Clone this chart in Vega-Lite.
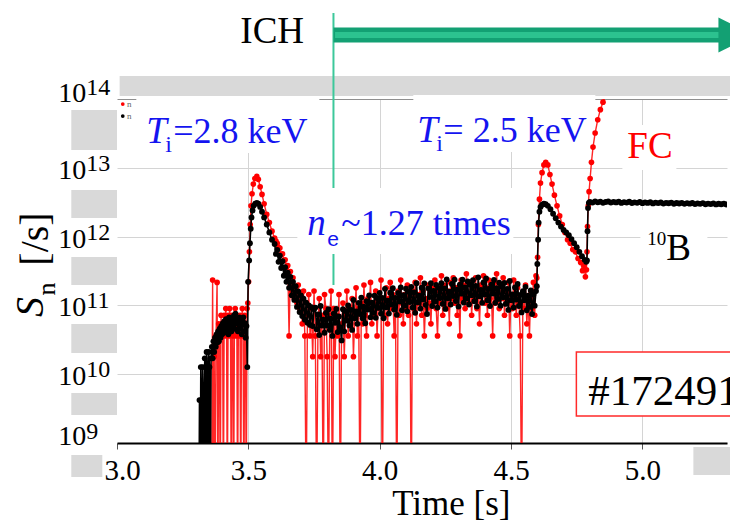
{
"$schema": "https://vega.github.io/schema/vega-lite/v6.json",
"width": 610, "height": 344, "autosize": "none",
"padding": {"left": 117, "top": 99, "right": 3, "bottom": 81},
"background": "#ffffff",
"config": {"view": {"stroke": null}, "font": "Liberation Serif"},
"datasets": {
"gray": [
{"t":3.010,"t2":5.34,"s":1.106e14,"s2":2.158e14},
{"t":2.826,"t2":3.0,"s":1.816e13,"s2":6.918e13},
{"t":2.826,"t2":3.0,"s":1.862e12,"s2":4.753e12},
{"t":2.826,"t2":3.0,"s":1.982e11,"s2":5.047e11},
{"t":2.826,"t2":3.0,"s":2.032e10,"s2":5.37e10},
{"t":2.826,"t2":3.0,"s":2.553e9,"s2":5.333e9},
{"t":2.826,"t2":2.944,"s":3.206e8,"s2":6.699e8},
{"t":5.194,"t2":5.34,"s":3.428e8,"s2":8.75e8}
],
"white": [
{"t":3.0735,"t2":3.7702,"s":1.641e13,"s2":1.106e14},
{"t":4.128,"t2":4.8209,"s":1.697e13,"s2":1.143e14},
{"t":4.9237,"t2":5.1293,"s":9.29e12,"s2":4.188e13},
{"t":3.6865,"t2":4.5088,"s":5.587e11,"s2":5.086e12},
{"t":4.9922,"t2":5.2473,"s":3.497e11,"s2":2.435e12}
],
"ylab": [{"t":2.8831,"s":1e9,"e":"9"},{"t":2.8831,"s":1e10,"e":"10"},{"t":2.8831,"s":1e11,"e":"11"},{"t":2.8831,"s":1e12,"e":"12"},{"t":2.8831,"s":1e13,"e":"13"},{"t":2.8831,"s":1e14,"e":"14"}],
"notes": [
{"t":3.1115,"s":2.294e13,"txt":"T","k":"bI"},
{"t":3.1839,"s":1.697e13,"txt":"i","k":"bs"},
{"t":3.2143,"s":2.294e13,"txt":"=2.8 keV","k":"b"},
{"t":4.1433,"s":2.371e13,"txt":"T","k":"bI"},
{"t":4.2156,"s":1.755e13,"txt":"i","k":"bs"},
{"t":4.2423,"s":2.371e13,"txt":"= 2.5 keV","k":"b"},
{"t":3.7245,"s":1.055e12,"txt":"n","k":"bI"},
{"t":3.8006,"s":7.3e11,"txt":"e","k":"be"},
{"t":3.8539,"s":1.055e12,"txt":"~1.27 times","k":"b"},
{"t":4.9427,"s":1.388e13,"txt":"FC","k":"r"},
{"t":5.0189,"s":7.55e11,"txt":"10","k":"ksup"},
{"t":5.0912,"s":4.57e11,"txt":"B","k":"k"},
{"t":4.7943,"s":3.567e9,"txt":"#172491","k":"big"},
{"t":3.4694,"s":6.516e14,"txt":"ICH","k":"k"},
{"t":4.2727,"s":8.985e7,"txt":"Time [s]","k":"title"},
{"t":2.7385,"s":9.23e11,"txt":"[/s]","k":"yt"},
{"t":2.7194,"s":9.478e10,"txt":"S","k":"ytI"},
{"t":2.7651,"s":1.731e11,"txt":"n","k":"yts"}
],
"fc": [
{"t":3.360,"s":1e8},{"t":3.364,"s":2.34e11},{"t":3.367,"s":1e8},{"t":3.370,"s":1.8e10},{"t":3.373,"s":1e8},{"t":3.377,"s":3.6e10},{"t":3.381,"s":2.16e11},{"t":3.384,"s":1e8},{"t":3.387,"s":5.4e10},{"t":3.390,"s":3.6e10},{"t":3.393,"s":1e8},{"t":3.396,"s":7.2e10},{"t":3.399,"s":3.6e10},{"t":3.402,"s":5.4e10},{"t":3.405,"s":1e8},{"t":3.408,"s":7.2e10},{"t":3.411,"s":3.6e10},{"t":3.414,"s":9e10},{"t":3.417,"s":5.4e10},{"t":3.420,"s":1e8},{"t":3.423,"s":7.2e10},{"t":3.426,"s":3.6e10},{"t":3.429,"s":9e10},{"t":3.432,"s":5.4e10},{"t":3.435,"s":1e8},{"t":3.438,"s":7.2e10},{"t":3.441,"s":3.6e10},{"t":3.444,"s":1e8},{"t":3.447,"s":5.4e10},{"t":3.450,"s":9e10},{"t":3.453,"s":3.6e10},{"t":3.456,"s":7.2e10},{"t":3.459,"s":1e8},{"t":3.462,"s":5.4e10},{"t":3.465,"s":3.6e10},{"t":3.468,"s":7.2e10},{"t":3.471,"s":1e8},{"t":3.474,"s":5.4e10},{"t":3.477,"s":9e10},{"t":3.480,"s":3.6e10},{"t":3.483,"s":1e8},{"t":3.486,"s":7.2e10},{"t":3.489,"s":5.4e10},{"t":3.492,"s":1e8},{"t":3.495,"s":9e10},{"t":3.498,"s":1.08e11},
{"t":3.501,"s":2.2e11},{"t":3.504,"s":6e11},{"t":3.507,"s":1.5e12},{"t":3.510,"s":2.8e12},{"t":3.514,"s":4.2e12},{"t":3.519,"s":5.8e12},{"t":3.525,"s":7e12},{"t":3.532,"s":7.5e12},{"t":3.538,"s":6.8e12},{"t":3.545,"s":5.3e12},{"t":3.552,"s":4.1e12},{"t":3.560,"s":3.0e12},{"t":3.570,"s":2.1e12},{"t":3.580,"s":1.6e12},{"t":3.590,"s":1.2e12},{"t":3.600,"s":9.5e11},{"t":3.605,"s":8.6e11},{"t":3.610,"s":8.0e11},{"t":3.615,"s":7.0e11},{"t":3.620,"s":6.8e11},{"t":3.625,"s":5.5e11},{"t":3.630,"s":5.6e11},{"t":3.635,"s":4.5e11},{"t":3.640,"s":4.6e11},{"t":3.645,"s":3.6e11},{"t":3.650,"s":3.8e11},{"t":3.655,"s":3.6e10},{"t":3.660,"s":3.1e11},
{"t":3.665,"s":1.62e11},{"t":3.670,"s":2.52e11},{"t":3.675,"s":1.26e11},{"t":3.680,"s":1.8e11},{"t":3.685,"s":1.08e11},{"t":3.690,"s":1.98e11},{"t":3.695,"s":9e10},{"t":3.700,"s":1.44e11},{"t":3.705,"s":5.4e10},{"t":3.710,"s":1.62e11},{"t":3.715,"s":3.6e10},{"t":3.720,"s":1e8},{"t":3.725,"s":7.2e10},{"t":3.730,"s":1.44e11},{"t":3.735,"s":3.6e10},{"t":3.740,"s":9e10},{"t":3.745,"s":1.8e10},{"t":3.750,"s":1.62e11},{"t":3.755,"s":3.6e10},{"t":3.760,"s":1e8},{"t":3.765,"s":5.4e10},{"t":3.770,"s":1.26e11},{"t":3.775,"s":1.8e10},{"t":3.780,"s":7.2e10},{"t":3.785,"s":1e8},{"t":3.790,"s":1.44e11},{"t":3.795,"s":9e10},{"t":3.800,"s":1.8e10},{"t":3.805,"s":1e8},{"t":3.810,"s":7.2e10},{"t":3.815,"s":1.62e11},{"t":3.820,"s":1e8},{"t":3.825,"s":9e10},{"t":3.830,"s":1.8e10},{"t":3.835,"s":7.2e10},{"t":3.840,"s":3.6e10},{"t":3.845,"s":1.44e11},{"t":3.850,"s":1e8},{"t":3.855,"s":5.4e10},{"t":3.860,"s":1.08e11},{"t":3.865,"s":1.8e10},{"t":3.870,"s":7.2e10},{"t":3.875,"s":1.62e11},{"t":3.880,"s":3.6e10},{"t":3.885,"s":9e10},{"t":3.890,"s":5.4e10},{"t":3.895,"s":1.26e11},{"t":3.900,"s":1.8e10},{"t":3.905,"s":7.2e10},{"t":3.910,"s":1.8e11},{"t":3.915,"s":3.6e10},{"t":3.920,"s":9e10},{"t":3.925,"s":1e8},{"t":3.930,"s":1.08e11},{"t":3.935,"s":5.4e10},{"t":3.940,"s":1.98e11},{"t":3.945,"s":7.2e10},{"t":3.950,"s":3.6e10},{"t":3.955,"s":1.26e11},{"t":3.960,"s":9e10},{"t":3.965,"s":2.16e11},{"t":3.970,"s":5.4e10},{"t":3.975,"s":1.08e11},{"t":3.980,"s":7.2e10},{"t":3.985,"s":1.62e11},{"t":3.990,"s":3.6e10},{"t":3.995,"s":1.26e11},
{"t":4.000,"s":9e10},{"t":4.005,"s":2.34e11},{"t":4.010,"s":1e8},{"t":4.015,"s":1.08e11},{"t":4.020,"s":7.2e10},{"t":4.025,"s":1.8e11},{"t":4.030,"s":5.4e10},{"t":4.035,"s":1.26e11},{"t":4.040,"s":2.16e11},{"t":4.045,"s":9e10},{"t":4.050,"s":1.44e11},{"t":4.055,"s":3.6e10},{"t":4.060,"s":1.08e11},{"t":4.065,"s":1e8},{"t":4.070,"s":1.62e11},{"t":4.075,"s":7.2e10},{"t":4.080,"s":2.34e11},{"t":4.085,"s":1.08e11},{"t":4.090,"s":5.4e10},{"t":4.095,"s":1.44e11},{"t":4.100,"s":9e10},{"t":4.105,"s":1.98e11},{"t":4.110,"s":7.2e10},{"t":4.115,"s":1.26e11},{"t":4.120,"s":1e8},{"t":4.125,"s":1.62e11},{"t":4.130,"s":9e10},{"t":4.135,"s":2.16e11},{"t":4.140,"s":5.4e10},{"t":4.145,"s":1.44e11},{"t":4.150,"s":1.08e11},{"t":4.155,"s":2.52e11},{"t":4.160,"s":7.2e10},{"t":4.165,"s":1.62e11},{"t":4.170,"s":3.6e10},{"t":4.175,"s":1.26e11},{"t":4.180,"s":9e10},{"t":4.185,"s":1.98e11},{"t":4.190,"s":1.08e11},{"t":4.195,"s":5.4e10},{"t":4.200,"s":1.8e11},{"t":4.205,"s":1.26e11},{"t":4.210,"s":2.34e11},{"t":4.215,"s":9e10},{"t":4.220,"s":3.6e10},{"t":4.225,"s":1.62e11},{"t":4.230,"s":1.08e11},{"t":4.235,"s":2.7e11},{"t":4.240,"s":7.2e10},{"t":4.245,"s":1.44e11},{"t":4.250,"s":1.98e11},{"t":4.255,"s":9e10},{"t":4.260,"s":1.62e11},{"t":4.265,"s":5.4e10},{"t":4.270,"s":2.16e11},{"t":4.275,"s":1.26e11},{"t":4.280,"s":2.52e11},{"t":4.285,"s":1.08e11},{"t":4.290,"s":1.8e11},{"t":4.295,"s":7.2e10},{"t":4.300,"s":1.62e11},{"t":4.305,"s":3.6e10},{"t":4.310,"s":2.34e11},{"t":4.315,"s":1.26e11},{"t":4.320,"s":1.98e11},{"t":4.325,"s":9e10},{"t":4.330,"s":2.88e11},{"t":4.335,"s":1.44e11},{"t":4.340,"s":1.08e11},{"t":4.345,"s":2.16e11},{"t":4.350,"s":7.2e10},{"t":4.355,"s":1.8e11},{"t":4.360,"s":1.26e11},{"t":4.365,"s":2.52e11},{"t":4.370,"s":9e10},{"t":4.375,"s":1.62e11},{"t":4.380,"s":5.4e10},{"t":4.385,"s":1.98e11},{"t":4.390,"s":1.44e11},{"t":4.395,"s":2.7e11},{"t":4.400,"s":1.08e11},{"t":4.405,"s":1.8e11},{"t":4.410,"s":7.2e10},{"t":4.415,"s":2.34e11},{"t":4.420,"s":1.26e11},{"t":4.425,"s":1.62e11},{"t":4.430,"s":3.6e10},{"t":4.435,"s":2.16e11},{"t":4.440,"s":1.08e11},{"t":4.445,"s":2.88e11},{"t":4.450,"s":1.44e11},{"t":4.455,"s":9e10},{"t":4.460,"s":1.98e11},{"t":4.465,"s":1.26e11},{"t":4.470,"s":2.52e11},{"t":4.475,"s":7.2e10},{"t":4.480,"s":1.62e11},{"t":4.485,"s":1.08e11},{"t":4.490,"s":2.16e11},{"t":4.495,"s":3.6e10},{"t":4.500,"s":1.44e11},{"t":4.505,"s":9e10},{"t":4.510,"s":2.34e11},{"t":4.515,"s":1.26e11},{"t":4.520,"s":7.2e10},{"t":4.525,"s":1.8e11},{"t":4.530,"s":1.08e11},{"t":4.535,"s":3.6e10},{"t":4.540,"s":1e8},{"t":4.545,"s":1.44e11},{"t":4.550,"s":9e10},{"t":4.555,"s":1.98e11},{"t":4.560,"s":5.4e10},{"t":4.565,"s":1.26e11},{"t":4.570,"s":3.6e10},{"t":4.575,"s":1.62e11},{"t":4.580,"s":9e10},{"t":4.585,"s":2.16e11},{"t":4.590,"s":7.2e10},{"t":4.595,"s":2.7e11},
{"t":4.598,"s":2.5e11},{"t":4.601,"s":5e11},{"t":4.604,"s":1.5e12},{"t":4.608,"s":3.5e12},{"t":4.612,"s":6e12},{"t":4.618,"s":8.5e12},{"t":4.625,"s":1.1e13},{"t":4.632,"s":1.2e13},{"t":4.640,"s":1.1e13},{"t":4.648,"s":8e12},{"t":4.656,"s":5.8e12},{"t":4.665,"s":4e12},{"t":4.675,"s":2.8e12},{"t":4.685,"s":2e12},{"t":4.695,"s":1.5e12},{"t":4.705,"s":1.15e12},{"t":4.715,"s":9e11},{"t":4.725,"s":8e11},{"t":4.735,"s":6.5e11},{"t":4.745,"s":6e11},{"t":4.755,"s":4.8e11},{"t":4.765,"s":4.2e11},{"t":4.772,"s":3.2e11},{"t":4.778,"s":3.8e11},{"t":4.783,"s":2.6e11},{"t":4.787,"s":3.3e11},{"t":4.789,"s":6e11},{"t":4.791,"s":1.4e12},{"t":4.794,"s":2.8e12},{"t":4.797,"s":4.5e12},{"t":4.801,"s":7e12},{"t":4.806,"s":1.2e13},{"t":4.812,"s":2e13},{"t":4.820,"s":3.2e13},{"t":4.830,"s":5e13},{"t":4.840,"s":7e13},{"t":4.850,"s":9e13},{"t":4.860,"s":1.15e14},{"t":4.880,"s":1.6e14},{"t":4.900,"s":2.2e14}
],
"b10": [
{"t":3.312,"s":1e8},{"t":3.314,"s":4.2e9},{"t":3.317,"s":1e8},{"t":3.319,"s":1.27e10},{"t":3.321,"s":4.2e9},{"t":3.324,"s":1e8},{"t":3.326,"s":1.27e10},{"t":3.329,"s":4.2e9},{"t":3.331,"s":1e8},{"t":3.334,"s":1.7e10},{"t":3.336,"s":1.27e10},{"t":3.339,"s":1e8},{"t":3.341,"s":2.1e10},{"t":3.344,"s":1.27e10},{"t":3.347,"s":1e8},{"t":3.349,"s":2.1e10},{"t":3.352,"s":1.27e10},{"t":3.355,"s":1e8},{"t":3.358,"s":1.7e10},{"t":3.361,"s":2.5e10},{"t":3.364,"s":1.7e10},{"t":3.367,"s":3e10},{"t":3.370,"s":2.1e10},{"t":3.373,"s":3.4e10},{"t":3.376,"s":2.5e10},{"t":3.379,"s":3.8e10},{"t":3.382,"s":2.9e10},{"t":3.385,"s":4.2e10},{"t":3.388,"s":3e10},{"t":3.391,"s":4.6e10},{"t":3.394,"s":3.4e10},{"t":3.397,"s":5e10},{"t":3.400,"s":3.8e10},{"t":3.403,"s":5.5e10},{"t":3.406,"s":4e10},{"t":3.409,"s":5.9e10},{"t":3.412,"s":4.2e10},{"t":3.415,"s":6.3e10},{"t":3.418,"s":4.6e10},{"t":3.421,"s":5.5e10},{"t":3.424,"s":3.8e10},{"t":3.427,"s":6.7e10},{"t":3.430,"s":4.6e10},{"t":3.433,"s":5.9e10},{"t":3.436,"s":4.2e10},{"t":3.439,"s":6.3e10},{"t":3.442,"s":5e10},{"t":3.445,"s":7.1e10},{"t":3.448,"s":4.6e10},{"t":3.451,"s":7.6e10},{"t":3.454,"s":5.5e10},{"t":3.457,"s":6.3e10},{"t":3.460,"s":4.2e10},{"t":3.463,"s":5.9e10},{"t":3.466,"s":6.7e10},{"t":3.469,"s":4.6e10},{"t":3.472,"s":5.5e10},{"t":3.475,"s":3.8e10},{"t":3.478,"s":5.9e10},{"t":3.481,"s":6.7e10},{"t":3.484,"s":4.2e10},{"t":3.487,"s":5.5e10},{"t":3.490,"s":3.4e10},{"t":3.493,"s":5e10},{"t":3.496,"s":1.27e10},
{"t":3.499,"s":2.2e11},{"t":3.503,"s":4.5e11},{"t":3.506,"s":8e11},{"t":3.509,"s":1.3e12},{"t":3.512,"s":1.9e12},{"t":3.516,"s":2.4e12},{"t":3.520,"s":2.8e12},{"t":3.526,"s":3.0e12},{"t":3.532,"s":3.1e12},{"t":3.538,"s":3.0e12},{"t":3.545,"s":2.7e12},{"t":3.552,"s":2.3e12},{"t":3.560,"s":1.9e12},{"t":3.570,"s":1.5e12},{"t":3.580,"s":1.15e12},{"t":3.590,"s":9e11},
{"t":3.600,"s":7.8e11},{"t":3.605,"s":5.6e11},{"t":3.610,"s":6.4e11},{"t":3.615,"s":4.3e11},{"t":3.620,"s":5.3e11},{"t":3.625,"s":3.5e11},{"t":3.630,"s":4.4e11},{"t":3.635,"s":2.7e11},{"t":3.640,"s":3.6e11},{"t":3.645,"s":2.2e11},{"t":3.650,"s":3.0e11},{"t":3.655,"s":1.8e11},{"t":3.660,"s":2.6e11},{"t":3.665,"s":1.4e11},{"t":3.670,"s":2.2e11},{"t":3.675,"s":1.2e11},{"t":3.680,"s":1.9e11},{"t":3.685,"s":9.5e10},{"t":3.690,"s":1.6e11},{"t":3.695,"s":8e10},{"t":3.700,"s":1.4e11},{"t":3.705,"s":7e10},{"t":3.710,"s":1.25e11},{"t":3.715,"s":6.2e10},{"t":3.720,"s":1.1e11},{"t":3.725,"s":5.6e10},{"t":3.730,"s":1.0e11},{"t":3.735,"s":5.2e10},{"t":3.740,"s":9.4e10},{"t":3.745,"s":5e10},{"t":3.750,"s":8.8e10},
{"t":3.755,"s":9.3e10},{"t":3.760,"s":4.5e10},{"t":3.765,"s":7.4e10},{"t":3.770,"s":3.7e10},{"t":3.775,"s":9.8e10},{"t":3.780,"s":5.1e10},{"t":3.785,"s":6.2e10},{"t":3.790,"s":4.0e10},{"t":3.795,"s":7.8e10},{"t":3.800,"s":5.1e10},{"t":3.805,"s":8.8e10},{"t":3.810,"s":4.4e10},{"t":3.815,"s":6.4e10},{"t":3.820,"s":3.6e10},{"t":3.825,"s":7.6e10},{"t":3.830,"s":5.6e10},{"t":3.835,"s":8.9e10},{"t":3.840,"s":4.1e10},{"t":3.845,"s":6.9e10},{"t":3.850,"s":4.8e10},{"t":3.855,"s":3.1e10},{"t":3.860,"s":8.8e10},{"t":3.865,"s":4.2e10},{"t":3.870,"s":8.3e10},{"t":3.875,"s":6.0e10},{"t":3.880,"s":1.0e11},{"t":3.885,"s":5.1e10},{"t":3.890,"s":8.6e10},{"t":3.895,"s":4.4e10},{"t":3.900,"s":1.2e11},{"t":3.905,"s":6.5e10},{"t":3.910,"s":8.2e10},{"t":3.915,"s":5.4e10},{"t":3.920,"s":1.09e11},{"t":3.925,"s":7.5e10},{"t":3.930,"s":1.3e11},{"t":3.935,"s":6.5e10},{"t":3.940,"s":9.6e10},{"t":3.945,"s":5.5e10},{"t":3.950,"s":1.15e11},{"t":3.955,"s":8.7e10},{"t":3.960,"s":1.4e11},{"t":3.965,"s":6.7e10},{"t":3.970,"s":1.1e11},{"t":3.975,"s":7.8e10},{"t":3.980,"s":1.39e11},{"t":3.985,"s":6.6e10},{"t":3.990,"s":1.28e11},{"t":3.995,"s":9.2e10},
{"t":4.000,"s":1.52e11},{"t":4.005,"s":7.6e10},{"t":4.010,"s":1.28e11},{"t":4.015,"s":6.5e10},{"t":4.020,"s":1.74e11},{"t":4.025,"s":9.4e10},{"t":4.030,"s":1.17e11},{"t":4.035,"s":7.6e10},{"t":4.040,"s":1.53e11},{"t":4.045,"s":1.03e11},{"t":4.050,"s":1.78e11},{"t":4.055,"s":8.7e10},{"t":4.060,"s":1.29e11},{"t":4.065,"s":7.3e10},{"t":4.070,"s":1.52e11},{"t":4.075,"s":1.14e11},{"t":4.080,"s":1.82e11},{"t":4.085,"s":8.5e10},{"t":4.090,"s":1.41e11},{"t":4.095,"s":9.9e10},{"t":4.100,"s":1.75e11},{"t":4.105,"s":8.2e10},{"t":4.110,"s":1.58e11},{"t":4.115,"s":1.12e11},{"t":4.120,"s":1.86e11},{"t":4.125,"s":9.3e10},{"t":4.130,"s":1.55e11},{"t":4.135,"s":7.8e10},{"t":4.140,"s":2.1e11},{"t":4.145,"s":1.11e11},{"t":4.150,"s":1.39e11},{"t":4.155,"s":9.0e10},{"t":4.160,"s":1.81e11},{"t":4.165,"s":1.22e11},{"t":4.170,"s":2.09e11},{"t":4.175,"s":1.02e11},{"t":4.180,"s":7.5e10},{"t":4.185,"s":1.77e11},{"t":4.190,"s":1.32e11},{"t":4.195,"s":2.1e11},{"t":4.200,"s":9.8e10},{"t":4.205,"s":1.62e11},{"t":4.210,"s":1.14e11},{"t":4.215,"s":1.99e11},{"t":4.220,"s":9.3e10},{"t":4.225,"s":1.8e11},{"t":4.230,"s":1.28e11},{"t":4.235,"s":2.1e11},{"t":4.240,"s":1.05e11},{"t":4.245,"s":1.76e11},{"t":4.250,"s":8.9e10},{"t":4.255,"s":2.38e11},{"t":4.260,"s":1.27e11},{"t":4.265,"s":1.58e11},{"t":4.270,"s":1.03e11},{"t":4.275,"s":2.05e11},{"t":4.280,"s":1.37e11},{"t":4.285,"s":2.37e11},{"t":4.290,"s":1.16e11},{"t":4.295,"s":1.69e11},{"t":4.300,"s":9.6e10},{"t":4.305,"s":2.0e11},{"t":4.310,"s":1.48e11},{"t":4.315,"s":2.36e11},{"t":4.320,"s":1.1e11},{"t":4.325,"s":1.82e11},{"t":4.330,"s":1.26e11},{"t":4.335,"s":2.23e11},{"t":4.340,"s":1.03e11},{"t":4.345,"s":2.0e11},{"t":4.350,"s":1.41e11},{"t":4.355,"s":2.32e11},{"t":4.360,"s":1.15e11},{"t":4.365,"s":1.92e11},{"t":4.370,"s":9.6e10},{"t":4.375,"s":2.56e11},{"t":4.380,"s":1.36e11},{"t":4.385,"s":1.68e11},{"t":4.390,"s":1.09e11},{"t":4.395,"s":2.16e11},{"t":4.400,"s":1.44e11},{"t":4.405,"s":2.46e11},{"t":4.410,"s":1.19e11},{"t":4.415,"s":1.74e11},{"t":4.420,"s":9.8e10},{"t":4.425,"s":2.01e11},{"t":4.430,"s":1.49e11},{"t":4.435,"s":2.34e11},{"t":4.440,"s":1.09e11},{"t":4.445,"s":1.78e11},{"t":4.450,"s":1.24e11},{"t":4.455,"s":2.14e11},{"t":4.460,"s":9.9e10},{"t":4.465,"s":1.88e11},{"t":4.470,"s":1.31e11},{"t":4.475,"s":2.13e11},{"t":4.480,"s":1.05e11},{"t":4.485,"s":1.73e11},{"t":4.490,"s":8.6e10},{"t":4.495,"s":2.26e11},{"t":4.500,"s":1.19e11},{"t":4.505,"s":1.45e11},{"t":4.510,"s":9.3e10},{"t":4.515,"s":1.82e11},{"t":4.520,"s":1.21e11},{"t":4.525,"s":2.05e11},{"t":4.530,"s":9.8e10},{"t":4.535,"s":1.42e11},{"t":4.540,"s":7.9e10},{"t":4.545,"s":1.61e11},{"t":4.550,"s":1.19e11},{"t":4.555,"s":1.86e11},{"t":4.560,"s":8.5e10},{"t":4.565,"s":1.39e11},{"t":4.570,"s":9.5e10},{"t":4.575,"s":1.65e11},{"t":4.580,"s":7.5e10},{"t":4.585,"s":1.44e11},{"t":4.590,"s":9.9e10},{"t":4.595,"s":1.62e11},
{"t":4.598,"s":1.9e11},{"t":4.600,"s":4e11},{"t":4.603,"s":9e11},{"t":4.605,"s":1.6e12},{"t":4.608,"s":2.3e12},{"t":4.612,"s":2.7e12},{"t":4.618,"s":2.9e12},{"t":4.625,"s":3.0e12},{"t":4.632,"s":2.95e12},{"t":4.640,"s":2.8e12},{"t":4.650,"s":2.5e12},{"t":4.660,"s":2.15e12},{"t":4.670,"s":1.85e12},{"t":4.680,"s":1.6e12},{"t":4.690,"s":1.4e12},{"t":4.700,"s":1.25e12},{"t":4.710,"s":1.15e12},{"t":4.720,"s":1.05e12},{"t":4.730,"s":9.2e11},{"t":4.740,"s":8e11},{"t":4.750,"s":7e11},{"t":4.760,"s":6e11},{"t":4.770,"s":5.2e11},{"t":4.780,"s":4.6e11},{"t":4.786,"s":4.3e11},{"t":4.789,"s":4.5e11},{"t":4.791,"s":1.2e12},{"t":4.793,"s":2.6e12},{"t":4.796,"s":3.1e12},
{"t":4.800,"s":3.20e12},{"t":4.810,"s":3.12e12},{"t":4.820,"s":3.25e12},{"t":4.830,"s":3.15e12},{"t":4.840,"s":3.22e12},{"t":4.850,"s":3.10e12},{"t":4.860,"s":3.18e12},{"t":4.870,"s":3.24e12},{"t":4.880,"s":3.12e12},{"t":4.890,"s":3.20e12},{"t":4.900,"s":3.14e12},{"t":4.910,"s":3.22e12},{"t":4.920,"s":3.09e12},{"t":4.930,"s":3.17e12},{"t":4.940,"s":3.12e12},{"t":4.950,"s":3.21e12},{"t":4.960,"s":3.08e12},{"t":4.970,"s":3.15e12},{"t":4.980,"s":3.10e12},{"t":4.990,"s":3.18e12},{"t":5.000,"s":3.06e12},{"t":5.010,"s":3.14e12},{"t":5.020,"s":3.09e12},{"t":5.030,"s":3.16e12},{"t":5.040,"s":3.04e12},{"t":5.050,"s":3.12e12},{"t":5.060,"s":3.07e12},{"t":5.070,"s":3.13e12},{"t":5.080,"s":3.02e12},{"t":5.090,"s":3.10e12},{"t":5.100,"s":3.05e12},{"t":5.110,"s":3.12e12},{"t":5.120,"s":3.00e12},{"t":5.130,"s":3.08e12},{"t":5.140,"s":3.03e12},{"t":5.150,"s":3.10e12},{"t":5.160,"s":2.99e12},{"t":5.170,"s":3.06e12},{"t":5.180,"s":3.01e12},{"t":5.190,"s":3.08e12},{"t":5.200,"s":2.97e12},{"t":5.210,"s":3.04e12},{"t":5.220,"s":2.99e12},{"t":5.230,"s":3.06e12},{"t":5.240,"s":2.95e12},{"t":5.250,"s":3.02e12},{"t":5.260,"s":2.97e12},{"t":5.270,"s":3.04e12},{"t":5.280,"s":2.94e12},{"t":5.290,"s":3.00e12},{"t":5.300,"s":2.95e12},{"t":5.310,"s":3.01e12},{"t":5.320,"s":2.93e12},{"t":5.330,"s":2.98e12}
]
},
"encoding": {
"x": {"field": "t", "type": "quantitative",
 "scale": {"domain": [3, 5.322], "nice": false, "zero": false},
 "axis": {"values": [3, 3.5, 4, 4.5, 5], "format": ".1f", "title": null,
  "labelFont": "Liberation Serif", "labelFontSize": 29, "labelColor": "#000000",
  "labelPadding": 7, "labelFlush": false, "labelOverlap": false,
  "labelOffset": {"condition": {"test": "datum.value == 3", "value": 5}, "value": 0},
  "tickSize": 6, "tickColor": "#555555", "domainColor": "#000000", "domainWidth": 2,
  "grid": true, "gridWidth": 1,
  "gridColor": {"condition": {"test": "datum.value == 3", "value": "rgba(0,0,0,0)"}, "value": "#d4d4d4"}}},
"y": {"field": "s", "type": "quantitative",
 "scale": {"type": "log", "domain": [1e9, 1e14], "nice": false},
 "axis": {"values": [1e9, 1e10, 1e11, 1e12, 1e13, 1e14], "labels": false, "ticks": false, "domain": false, "title": null,
  "grid": true, "gridWidth": 1,
  "gridColor": {"condition": {"test": "datum.value > 5e13", "value": "#8f8f8f"}, "value": "#d4d4d4"}}}
},
"layer": [
{"data": {"name": "gray"}, "mark": {"type": "rect", "color": "#d9d9d9"}, "encoding": {"x2": {"field": "t2"}, "y2": {"field": "s2"}}},
{"data": {"values": [{"t": 3.824, "s": 1.778e15, "s2": 1.98e11}]}, "mark": {"type": "rule", "color": "#3cc89b", "strokeWidth": 2}, "encoding": {"y2": {"field": "s2"}}},
{"data": {"name": "white"}, "mark": {"type": "rect", "color": "#ffffff"}, "encoding": {"x2": {"field": "t2"}, "y2": {"field": "s2"}}},
{"data": {"name": "fc"}, "mark": {"type": "line", "color": "#ff0000", "strokeWidth": 1.4, "opacity": 0.85, "clip": true}},
{"data": {"name": "fc"}, "mark": {"type": "point", "filled": true, "size": 32, "color": "#ff0000", "opacity": 1, "clip": true}},
{"data": {"name": "b10"}, "mark": {"type": "line", "color": "#000000", "strokeWidth": 1.6, "clip": true}},
{"data": {"name": "b10"}, "mark": {"type": "point", "filled": true, "size": 34, "color": "#000000", "opacity": 1, "clip": true}},
{"data": {"values": [{"t": 4.7486, "t2": 5.37, "s": 2.469e9, "s2": 2.102e10}]}, "mark": {"type": "rect", "fill": "#ffffff", "stroke": "#ff2a2a", "strokeWidth": 1.5}, "encoding": {"x2": {"field": "t2"}, "y2": {"field": "s2"}}},
{"data": {"values": [{"t": 3.824, "t2": 5.34, "s": 8.51e14}]}, "mark": {"type": "rule", "color": "#13a073", "strokeWidth": 15}, "encoding": {"x2": {"field": "t2"}}},
{"data": {"values": [{"t": 3.830, "t2": 5.34, "s": 8.51e14}]}, "mark": {"type": "rule", "color": "#2cc28f", "strokeWidth": 6}, "encoding": {"x2": {"field": "t2"}}},
{"data": {"values": [{"t": 5.356, "s": 8.51e14}]}, "mark": {"type": "point", "shape": "M-1,-1L1,0L-1,1Z", "filled": true, "size": 1225, "color": "#13a073", "opacity": 1}},
{"data": {"values": [{"t": 3.022, "s": 8.45e13, "c": "r"}, {"t": 3.022, "s": 5.66e13, "c": "k"}]}, "mark": {"type": "point", "filled": true, "size": 14, "opacity": 1}, "encoding": {"color": {"field": "c", "type": "nominal", "scale": {"domain": ["r", "k"], "range": ["#ff0000", "#000000"]}, "legend": null}}},
{"data": {"values": [{"t": 3.038, "s": 8.45e13}, {"t": 3.038, "s": 5.66e13}]}, "mark": {"type": "text", "text": "n", "fontSize": 9, "color": "#666666", "align": "left", "baseline": "middle"}},
{"data": {"name": "ylab"}, "transform": [{"filter": "datum.s > 5e9 && datum.s < 5e13"}], "mark": {"type": "text", "text": "10", "font": "Liberation Serif", "fontSize": 28, "color": "#000000", "align": "right", "baseline": "alphabetic", "dy": 11}},
{"data": {"name": "ylab"}, "transform": [{"filter": "datum.s > 5e13"}], "mark": {"type": "text", "text": "10", "font": "Liberation Serif", "fontSize": 28, "color": "#000000", "align": "right", "baseline": "alphabetic", "dy": 3}},
{"data": {"name": "ylab"}, "transform": [{"filter": "datum.s < 5e9"}], "mark": {"type": "text", "text": "10", "font": "Liberation Serif", "fontSize": 28, "color": "#000000", "align": "right", "baseline": "alphabetic", "dy": 2}},
{"data": {"name": "ylab"}, "transform": [{"filter": "datum.s > 5e9 && datum.s < 5e13"}], "mark": {"type": "text", "font": "Liberation Serif", "fontSize": 24, "color": "#000000", "align": "left", "baseline": "alphabetic", "dy": 3}, "encoding": {"text": {"field": "e"}}},
{"data": {"name": "ylab"}, "transform": [{"filter": "datum.s > 5e13"}], "mark": {"type": "text", "font": "Liberation Serif", "fontSize": 24, "color": "#000000", "align": "left", "baseline": "alphabetic", "dy": -4}, "encoding": {"text": {"field": "e"}}},
{"data": {"name": "ylab"}, "transform": [{"filter": "datum.s < 5e9"}], "mark": {"type": "text", "font": "Liberation Serif", "fontSize": 24, "color": "#000000", "align": "left", "baseline": "alphabetic", "dy": -4}, "encoding": {"text": {"field": "e"}}},
{"data": {"name": "notes"}, "transform": [{"filter": "datum.k == 'bI'"}], "mark": {"type": "text", "font": "Liberation Serif", "fontStyle": "italic", "fontSize": 37, "color": "#1414f0", "align": "left", "baseline": "alphabetic"}, "encoding": {"text": {"field": "txt"}}},
{"data": {"name": "notes"}, "transform": [{"filter": "datum.k == 'b'"}], "mark": {"type": "text", "font": "Liberation Serif", "fontSize": 36, "color": "#1414f0", "align": "left", "baseline": "alphabetic"}, "encoding": {"text": {"field": "txt"}}},
{"data": {"name": "notes"}, "transform": [{"filter": "datum.k == 'bs'"}], "mark": {"type": "text", "font": "Liberation Serif", "fontSize": 24, "color": "#1414f0", "align": "left", "baseline": "alphabetic"}, "encoding": {"text": {"field": "txt"}}},
{"data": {"name": "notes"}, "transform": [{"filter": "datum.k == 'be'"}], "mark": {"type": "text", "font": "Liberation Sans", "fontSize": 21, "color": "#1414f0", "align": "left", "baseline": "alphabetic"}, "encoding": {"text": {"field": "txt"}}},
{"data": {"name": "notes"}, "transform": [{"filter": "datum.k == 'r'"}], "mark": {"type": "text", "font": "Liberation Serif", "fontSize": 37, "color": "#ff0000", "align": "left", "baseline": "alphabetic"}, "encoding": {"text": {"field": "txt"}}},
{"data": {"name": "notes"}, "transform": [{"filter": "datum.k == 'k'"}], "mark": {"type": "text", "font": "Liberation Serif", "fontSize": 37, "color": "#000000", "align": "left", "baseline": "alphabetic"}, "encoding": {"text": {"field": "txt"}}},
{"data": {"name": "notes"}, "transform": [{"filter": "datum.k == 'ksup'"}], "mark": {"type": "text", "font": "Liberation Serif", "fontSize": 19, "color": "#000000", "align": "left", "baseline": "alphabetic"}, "encoding": {"text": {"field": "txt"}}},
{"data": {"name": "notes"}, "transform": [{"filter": "datum.k == 'big'"}], "mark": {"type": "text", "font": "Liberation Serif", "fontSize": 43, "color": "#000000", "align": "left", "baseline": "alphabetic"}, "encoding": {"text": {"field": "txt"}}},
{"data": {"name": "notes"}, "transform": [{"filter": "datum.k == 'title'"}], "mark": {"type": "text", "font": "Liberation Serif", "fontSize": 35, "color": "#000000", "align": "center", "baseline": "alphabetic"}, "encoding": {"text": {"field": "txt"}}},
{"data": {"name": "notes"}, "transform": [{"filter": "datum.k == 'yt'"}], "mark": {"type": "text", "font": "Liberation Serif", "fontSize": 40, "color": "#000000", "align": "center", "baseline": "alphabetic", "angle": 270}, "encoding": {"text": {"field": "txt"}}},
{"data": {"name": "notes"}, "transform": [{"filter": "datum.k == 'ytI'"}], "mark": {"type": "text", "font": "Liberation Serif", "fontStyle": "italic", "fontSize": 40, "color": "#000000", "align": "center", "baseline": "alphabetic", "angle": 270}, "encoding": {"text": {"field": "txt"}}},
{"data": {"name": "notes"}, "transform": [{"filter": "datum.k == 'yts'"}], "mark": {"type": "text", "font": "Liberation Serif", "fontSize": 26, "color": "#000000", "align": "center", "baseline": "alphabetic", "angle": 270}, "encoding": {"text": {"field": "txt"}}}
]
}
